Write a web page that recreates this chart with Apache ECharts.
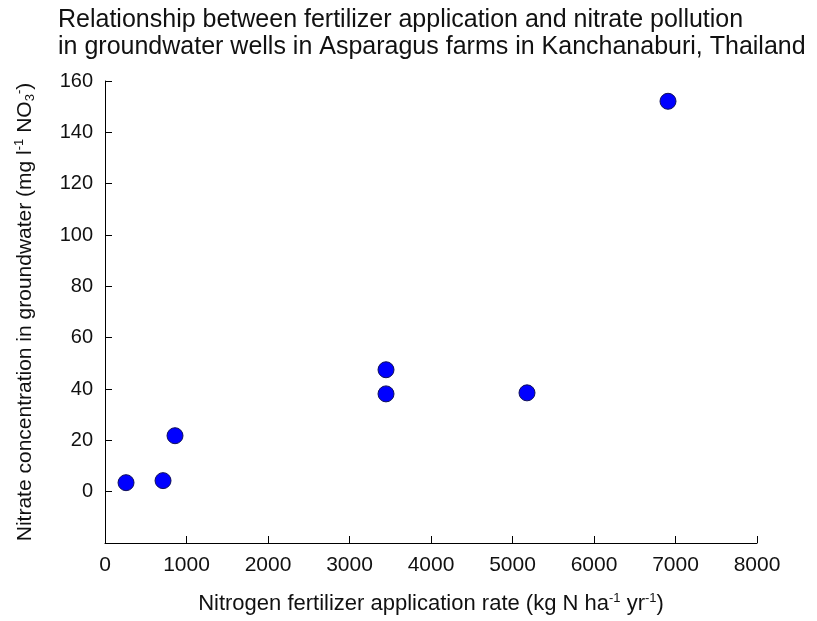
<!DOCTYPE html>
<html>
<head>
<meta charset="utf-8">
<script src="https://cdn.jsdelivr.net/npm/echarts@6/dist/echarts.min.js"></script>
<style>
  html, body { margin: 0; padding: 0; background: #fff; }
  #main { width: 817px; height: 621px; }
</style>
</head>
<body>
<div id="main"></div>
<script>
// fertilizer rate (kg N/ha/yr) and nitrate (mg/l NO3-)
var fertilizerRate = [258, 712, 859, 3448, 3448, 5178, 6908];
var nitrate = [3.5, 4.3, 21.8, 47.5, 38.1, 38.5, 152.1];

var xTicks = [0, 8000, 1000];  // min, max, interval
var yTicks = [-20, 160, 20];
var yTickValues = [0, 20, 40, 60, 80, 100, 120, 140, 160];

var points = fertilizerRate.map(function (x, i) {
    return [x, nitrate[i]];
});

var font = 'Liberation Sans, Arial, sans-serif';
var ink = '#111';

var nameRich = {
    sup: { fontFamily: font, fontSize: 13, lineHeight: 13, verticalAlign: 'top', color: ink },
    sub: { fontFamily: font, fontSize: 13, lineHeight: 13, verticalAlign: 'bottom', color: ink }
};

var option = {
    backgroundColor: '#fff',
    title: {
        text: 'Relationship between fertilizer application and nitrate pollution\nin groundwater wells in Asparagus farms in Kanchanaburi, Thailand',
        left: 53,
        top: 2,
        textStyle: {
            fontFamily: font,
            fontSize: 25,
            fontWeight: 'normal',
            color: ink,
            lineHeight: 27
        }
    },
    grid: {
        left: 105,
        right: 60,
        top: 81,
        bottom: 76
    },
    xAxis: {
        type: 'value',
        min: xTicks[0],
        max: xTicks[1],
        interval: xTicks[2],
        name: 'Nitrogen fertilizer application rate (kg N ha{sup|-1} yr{sup|-1})',
        nameLocation: 'middle',
        nameGap: 49,
        nameTextStyle: { fontFamily: font, fontSize: 22, color: ink, lineHeight: 24, rich: nameRich },
        axisLine: { onZero: false, lineStyle: { color: '#000', width: 1 } },
        axisTick: { length: -7, lineStyle: { color: '#000' } },
        axisLabel: {
            margin: 12,
            fontFamily: font,
            fontSize: 21,
            color: ink,
            formatter: function (v) { return String(v); }
        },
        splitLine: { show: false }
    },
    yAxis: {
        type: 'value',
        min: yTicks[0],
        max: yTicks[1],
        interval: yTicks[2],
        name: 'Nitrate concentration in groundwater (mg l{sup|-1} NO{sub|3}{sup|-})',
        nameLocation: 'middle',
        nameGap: 68,
        nameTextStyle: { fontFamily: font, fontSize: 21, color: ink, lineHeight: 24, rich: nameRich },
        axisLine: { show: true, onZero: false, lineStyle: { color: '#000', width: 1 } },
        axisTick: {
            length: -7,
            lineStyle: { color: '#000' },
            customValues: yTickValues
        },
        axisLabel: {
            margin: 12,
            fontFamily: font,
            fontSize: 20,
            color: ink,
            formatter: function (v) { return v < 0 ? '' : String(v); }
        },
        splitLine: { show: false }
    },
    series: [{
        type: 'scatter',
        data: points,
        symbol: 'circle',
        symbolSize: 16,
        itemStyle: {
            color: '#0000ff',
            borderColor: '#10105a',
            borderWidth: 1,
            opacity: 1
        }
    }]
};

var chart = echarts.init(document.getElementById('main'));
chart.setOption(option);
</script>
</body>
</html>
